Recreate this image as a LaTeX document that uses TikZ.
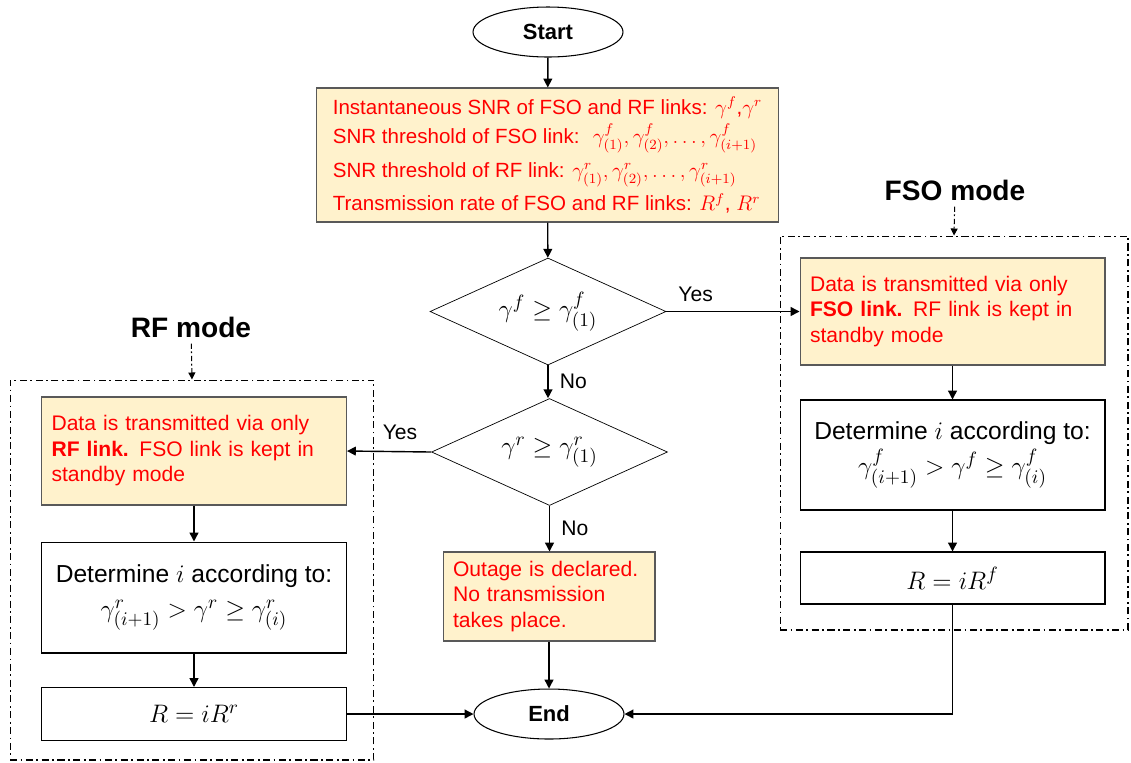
\documentclass[tikz,border=0pt]{standalone}
\usepackage{fontspec}
\setmainfont{Liberation Sans}
\usetikzlibrary{shapes.geometric,arrows.meta}
\definecolor{notefill}{HTML}{FFF2CC}
\definecolor{notered}{HTML}{FF0000}
\begin{document}
\begin{tikzpicture}[x=0.02cm, y=-0.02cm,
    every node/.style={font=\fontsize{12}{14.5}\selectfont},
    term/.style={draw, ellipse, line width=0.6pt, minimum width=3cm, minimum height=1cm, font=\fontsize{12.5}{14}\selectfont\bfseries},
    note/.style={draw=black!65, line width=0.6pt, fill=notefill, text=notered, align=left, inner xsep=0.2cm},
    stepbox/.style={draw, line width=0.6pt, minimum width=6.1cm, align=center, font=\fontsize{14}{20}\selectfont},
    cond/.style={draw, diamond, aspect=2.2, inner sep=0pt, minimum width=4.72cm, minimum height=2.14cm, font=\fontsize{15.5}{17}\selectfont},
    modebox/.style={draw, line width=0.6pt, dash pattern=on 4pt off 2pt on 1pt off 2pt},
    modelabel/.style={font=\fontsize{16}{19}\selectfont\bfseries},
    arr/.style={-{Triangle[length=5pt,width=5pt]}, line width=0.8pt},
    modearr/.style={-{Triangle[length=4pt,width=4pt]}, line width=0.6pt, dash pattern=on 3pt off 1.5pt on 1pt off 1.5pt}]
\useasboundingbox (0,0) rectangle (1131,762);

\node[modebox, minimum width=6.96cm, minimum height=7.88cm] (fsomode) at (954,433) {};
\node[modebox, minimum width=7.28cm, minimum height=7.6cm] (rfmode) at (192,570) {};
\node[modelabel] (fsolbl) at (955,190) {FSO mode};
\node[modelabel] (rflbl) at (191,327) {RF mode};

\node[term] (start) at (548,32) {Start};
\node[note, minimum width=9.26cm, minimum height=2.68cm, inner xsep=0.1cm, font=\fontsize{11.7}{16.5}\selectfont] (info) at (547.5,155) {Instantaneous SNR of FSO and RF links: $\gamma^{f}$,$\gamma^{r}$\\
SNR threshold of FSO link: \ $\gamma^{f}_{(1)},\gamma^{f}_{(2)},\dots,\gamma^{f}_{(i+1)}$\\[3pt]
SNR threshold of RF link: $\gamma^{r}_{(1)},\gamma^{r}_{(2)},\dots,\gamma^{r}_{(i+1)}$\\[2.5pt]
Transmission rate of FSO and RF links: $R^{f}$, $R^{r}$};
\node[cond] (fsotest) at (548,311.5) {$\gamma^{f} \geq \gamma^{f}_{(1)}$};
\node[cond] (rftest) at (549.5,452) {$\gamma^{r} \geq \gamma^{r}_{(1)}$};
\node[note, text width=3.84cm, minimum width=4.24cm, minimum height=1.78cm] (outage) at (549,596.5) {Outage is declared.\\ No transmission\\ takes place.};
\node[term] (end) at (549,714) {End};

\node[note, text width=5.7cm, minimum height=2.14cm] (fsoa) at (952.5,311.5) {Data is transmitted via only\\ \textbf{FSO link.} RF link is kept in\\ standby mode};
\node[stepbox, minimum height=2.2cm] (fsob) at (952.5,455) {Determine $i$ according to:\\ {\fontsize{15}{18}\selectfont$\gamma^{f}_{(i+1)} > \gamma^{f} \geq \gamma^{f}_{(i)}$}};
\node[stepbox, minimum height=1.04cm, font=\fontsize{15}{17}\selectfont] (fsoc) at (952.5,578) {$R = iR^{f}$};

\node[note, text width=5.7cm, minimum height=2.16cm] (rfa) at (194,451) {Data is transmitted via only\\ \textbf{RF link.} FSO link is kept in\\ standby mode};
\node[stepbox, minimum height=2.22cm] (rfb) at (194,597.5) {Determine $i$ according to:\\ {\fontsize{15}{18}\selectfont$\gamma^{r}_{(i+1)} > \gamma^{r} \geq \gamma^{r}_{(i)}$}};
\node[stepbox, minimum height=1.06cm, font=\fontsize{15}{17}\selectfont] (rfc) at (194,714) {$R = iR^{r}$};

\draw[arr] (start) -- (info);
\draw[arr] (info) -- (fsotest);
\draw[arr] (fsotest.east) -- node[pos=0.22, above, yshift=2pt] {Yes} (fsoa.west);
\draw[arr] (fsotest.south) -- node[midway, right, xshift=3pt] {No} (fsotest.south |- rftest.north);
\draw[arr] (rftest.west) -- node[pos=0.37, above, yshift=3pt] {Yes} (rfa.east);
\draw[arr] (rftest.south) -- node[midway, right, xshift=3pt] {No} (rftest.south |- outage.north);
\draw[arr] (outage) -- (end);
\draw[arr] (fsoa) -- (fsob);
\draw[arr] (fsob) -- (fsoc);
\draw[arr] (fsoc.south) |- (end.east);
\draw[arr] (rfa) -- (rfb);
\draw[arr] (rfb) -- (rfc);
\draw[arr] (rfc) -- (end);
\draw[modearr] (fsolbl) -- (fsomode.north);
\draw[modearr] (rflbl) -- (rfmode.north);
\end{tikzpicture}
\end{document}
